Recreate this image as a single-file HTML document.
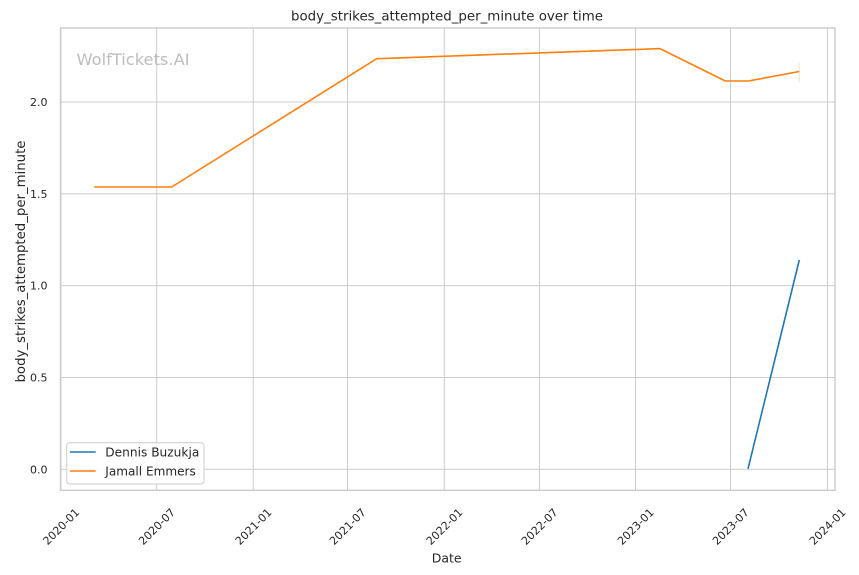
<!DOCTYPE html>
<html>
<head>
<meta charset="utf-8">
<style>
html,body{margin:0;padding:0;background:#fff;}
svg{display:block;}
text{font-family:"DejaVu Sans","Liberation Sans",sans-serif;fill:#262626;}
</style>
</head>
<body>
<svg width="859" height="575" viewBox="0 0 859 575" xmlns="http://www.w3.org/2000/svg">
<rect x="0" y="0" width="859" height="575" fill="#fff"/>
<!-- grid -->
<g stroke="#cccccc" stroke-width="1">
<line x1="61" y1="28" x2="61" y2="490"/>
<line x1="156.7" y1="28" x2="156.7" y2="490"/>
<line x1="253.3" y1="28" x2="253.3" y2="490"/>
<line x1="347.5" y1="28" x2="347.5" y2="490"/>
<line x1="444.3" y1="28" x2="444.3" y2="490"/>
<line x1="539.4" y1="28" x2="539.4" y2="490"/>
<line x1="635.5" y1="28" x2="635.5" y2="490"/>
<line x1="730.5" y1="28" x2="730.5" y2="490"/>
<line x1="827.4" y1="28" x2="827.4" y2="490"/>
<line x1="60.5" y1="469.3" x2="835" y2="469.3"/>
<line x1="60.5" y1="377.5" x2="835" y2="377.5"/>
<line x1="60.5" y1="285.6" x2="835" y2="285.6"/>
<line x1="60.5" y1="193.8" x2="835" y2="193.8"/>
<line x1="60.5" y1="102" x2="835" y2="102"/>
</g>
<!-- spines -->
<rect x="60.5" y="28" width="774.5" height="462.3" fill="none" stroke="#cccccc" stroke-width="1.4"/>
<!-- watermark -->
<text x="76.5" y="65" font-size="16" fill="#bdbdbd" style="fill:#bdbdbd" textLength="113" lengthAdjust="spacingAndGlyphs">WolfTickets.AI</text>
<!-- series -->
<line x1="799.3" y1="63" x2="799.3" y2="82" stroke="#ff7f0e" stroke-opacity="0.25" stroke-width="1"/>
<polyline fill="none" stroke="#ff7f0e" stroke-width="1.6" stroke-linejoin="round" points="94.3,187 171.7,187 376.7,58.7 660,48.6 725.3,81 748.3,81 799.3,71.5"/>
<polyline fill="none" stroke="#1f77b4" stroke-width="1.6" points="748,468.8 799.3,260"/>
<!-- y ticks -->
<g font-size="11" text-anchor="end">
<text x="47.5" y="473.3">0.0</text>
<text x="47.5" y="381.5">0.5</text>
<text x="47.5" y="289.6">1.0</text>
<text x="47.5" y="197.8">1.5</text>
<text x="47.5" y="106">2.0</text>
</g>
<!-- x ticks -->
<g font-size="11" text-anchor="middle">
<g transform="translate(61,526.5) rotate(-45)"><text x="0" y="4">2020-01</text></g>
<g transform="translate(156.7,526.5) rotate(-45)"><text x="0" y="4">2020-07</text></g>
<g transform="translate(253.3,526.5) rotate(-45)"><text x="0" y="4">2021-01</text></g>
<g transform="translate(347.5,526.5) rotate(-45)"><text x="0" y="4">2021-07</text></g>
<g transform="translate(444.3,526.5) rotate(-45)"><text x="0" y="4">2022-01</text></g>
<g transform="translate(539.4,526.5) rotate(-45)"><text x="0" y="4">2022-07</text></g>
<g transform="translate(635.5,526.5) rotate(-45)"><text x="0" y="4">2023-01</text></g>
<g transform="translate(730.5,526.5) rotate(-45)"><text x="0" y="4">2023-07</text></g>
<g transform="translate(827.4,526.5) rotate(-45)"><text x="0" y="4">2024-01</text></g>
</g>
<!-- labels -->
<text x="447" y="20.5" font-size="13.4" text-anchor="middle" textLength="312" lengthAdjust="spacingAndGlyphs">body_strikes_attempted_per_minute over time</text>
<text x="446.7" y="562.7" font-size="12.5" text-anchor="middle">Date</text>
<g transform="translate(25,261.5) rotate(-90)"><text x="0" y="0" font-size="13.3" text-anchor="middle" textLength="242" lengthAdjust="spacingAndGlyphs">body_strikes_attempted_per_minute</text></g>
<!-- legend -->
<rect x="66.7" y="442.7" width="137.3" height="41.3" rx="3" ry="3" fill="#fff" fill-opacity="0.85" stroke="#cccccc" stroke-width="1"/>
<line x1="70" y1="452" x2="95.7" y2="452" stroke="#1f77b4" stroke-width="1.6"/>
<line x1="70" y1="471" x2="95.7" y2="471" stroke="#ff7f0e" stroke-width="1.6"/>
<text x="105.3" y="456.7" font-size="12" textLength="94" lengthAdjust="spacingAndGlyphs">Dennis Buzukja</text>
<text x="105.3" y="475.7" font-size="12" textLength="90.5" lengthAdjust="spacingAndGlyphs">Jamall Emmers</text>
</svg>
</body>
</html>
